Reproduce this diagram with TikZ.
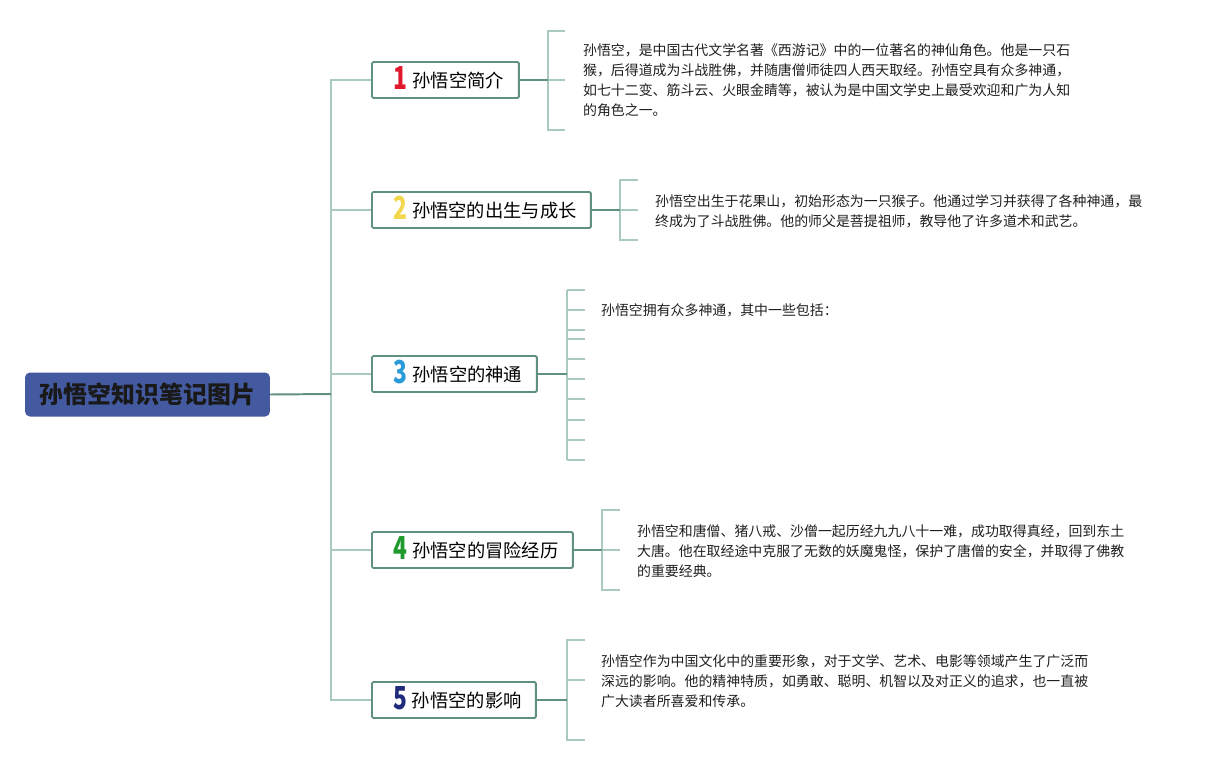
\documentclass[tikz,border=0pt]{standalone}
\usepackage{fontspec}
\setmainfont{Noto Sans CJK SC}
\newfontfamily\numfont[FakeStretch=0.72]{Noto Sans CJK SC}
\usetikzlibrary{positioning}

\definecolor{rootblue}{HTML}{4359A0}
\definecolor{linedark}{HTML}{5F9080}
\definecolor{linelight}{HTML}{A9CBBD}
\definecolor{numred}{HTML}{E0182D}
\definecolor{numyellow}{HTML}{F2D64B}
\definecolor{numblue}{HTML}{2B9AD8}
\definecolor{numgreen}{HTML}{1E9A2E}
\definecolor{numnavy}{HTML}{1F2A7A}

\tikzset{
  rootbox/.style={fill=rootblue, rounded corners=0.25cm, minimum width=12.25cm,
    minimum height=2.2cm, text=black!90, font=\fontsize{34pt}{34pt}\selectfont\bfseries},
  topic/.style={draw=linedark, line width=2.6pt, fill=white, rounded corners=2pt,
    minimum height=1.8cm, anchor=west, inner xsep=4pt, text height=23pt, text depth=3pt,
    font=\fontsize{26pt}{26pt}\selectfont},
  note/.style={anchor=west, align=left, inner sep=0pt, text=black!88,
    font=\fontsize{19.8pt}{28.6pt}\selectfont},
  darkline/.style={draw=linedark, line width=2.8pt},
  lightline/.style={draw=linelight, line width=2.8pt},
}
\newcommand{\topicnum}[2]{\hspace{10pt}\raisebox{-3pt}{\numfont\bfseries\fontsize{45pt}{45pt}\selectfont\textcolor{#1}{#2}}\hspace{7pt}}

\begin{document}
\begin{tikzpicture}[x=0.05cm,y=-0.05cm]
    \useasboundingbox (0,0) rectangle (1215,765);

    % root and trunk
    \node[rootbox] (root) at (147.5,394.5) {孙悟空知识笔记图片};
    \coordinate (trunk) at (331,394);

    \node[topic, minimum width=7.35cm]  (b1) at (371,80)  {\topicnum{numred}{1}孙悟空简介};
    \node[topic, minimum width=10.95cm] (b2) at (371,210) {\topicnum{numyellow}{2}孙悟空的出生与成长};
    \node[topic, minimum width=8.25cm]  (b3) at (371,374) {\topicnum{numblue}{3}孙悟空的神通};
    \node[topic, minimum width=10.05cm] (b4) at (371,550) {\topicnum{numgreen}{4}孙悟空的冒险经历};
    \node[topic, minimum width=8.2cm]   (b5) at (371,700) {\topicnum{numnavy}{5}孙悟空的影响};

    \draw[lightline] (b1.west) -- (b1.west -| trunk) -- (b5.west -| trunk) -- (b5.west);
    \foreach \b in {b2,b3,b4}
        \draw[lightline] (\b.west) -- (\b.west -| trunk);
    \draw[darkline] (root.east) -- (trunk);

    % brackets
    \coordinate (k1) at (548,80);
    \coordinate (k2) at (620,210);
    \coordinate (k3) at (567,374);
    \coordinate (k4) at (602,550);
    \coordinate (k5) at (567,700);

    \draw[lightline] (565,31) -- (548,31) -- (548,130) -- (565,130);
    \draw[lightline] (k1) -- ++(17,0);
    \draw[lightline] (638,180) -- (620,180) -- (620,240) -- (638,240);
    \draw[lightline] (k2) -- ++(18,0);
    \draw[lightline] (567,290) -- (567,460);
    \foreach \y in {290,310,330,339,359,379,399,420,440,460}
        \draw[lightline] (567,\y) -- (585,\y);
    \draw[lightline] (620,510) -- (602,510) -- (602,590) -- (620,590);
    \draw[lightline] (k4) -- ++(18,0);
    \draw[lightline] (585,640) -- (567,640) -- (567,740) -- (585,740);
    \draw[lightline] (567,680) -- (585,680);

    \foreach \i in {1,...,5}
        \draw[darkline] (b\i.east) -- (k\i);

    % notes
    \node[note] (t1) at (583,80) {孙悟空，是中国古代文学名著《西游记》中的一位著名的神仙角色。他是一只石\\
        猴，后得道成为斗战胜佛，并随唐僧师徒四人西天取经。孙悟空具有众多神通，\\
        如七十二变、筋斗云、火眼金睛等，被认为是中国文学史上最受欢迎和广为人知\\
        的角色之一。};
    \node[note] (t2) at (655,211.5) {孙悟空出生于花果山，初始形态为一只猴子。他通过学习并获得了各种神通，最\\
        终成为了斗战胜佛。他的师父是菩提祖师，教导他了许多道术和武艺。};
    \node[note] (t3) at (601,310) {孙悟空拥有众多神通，其中一些包括：};
    \node[note] (t4) at (637,551) {孙悟空和唐僧、猪八戒、沙僧一起历经九九八十一难，成功取得真经，回到东土\\
        大唐。他在取经途中克服了无数的妖魔鬼怪，保护了唐僧的安全，并取得了佛教\\
        的重要经典。};
    \node[note] (t5) at (601,681.5) {孙悟空作为中国文化中的重要形象，对于文学、艺术、电影等领域产生了广泛而\\
        深远的影响。他的精神特质，如勇敢、聪明、机智以及对正义的追求，也一直被\\
        广大读者所喜爱和传承。};
\end{tikzpicture}
\end{document}
